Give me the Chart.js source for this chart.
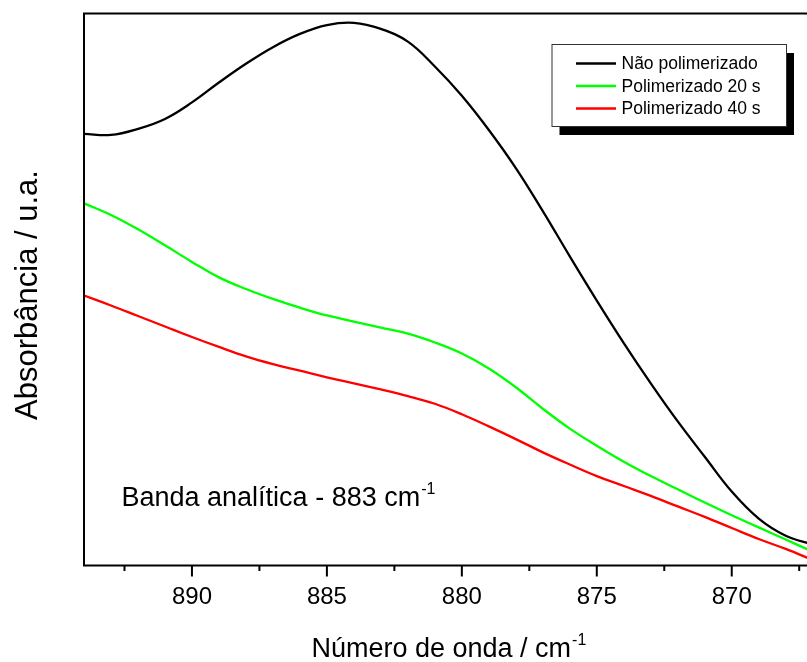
<!DOCTYPE html>
<html>
<head>
<meta charset="utf-8">
<title>Absorbância - banda 883</title>
<script src="https://cdn.jsdelivr.net/npm/chart.js@4"></script>
<style>
  html, body { margin: 0; padding: 0; background: #fff; overflow: hidden; }
  #grafico { display: block; }
</style>
</head>
<body>
<canvas id="grafico" width="815" height="662"></canvas>
<script>
/* espectros na regiao de 883 cm-1 */
var numeroOnda = [894, 893, 892, 891, 890, 889, 888, 887, 886, 885, 884, 883, 882, 881,
                  880, 879, 878, 877, 876, 875, 874, 873, 872, 871, 870, 869, 868, 867];

var naoPolimerizado = [78.2, 78.0, 79.1, 80.9, 83.9, 87.5, 90.9, 93.9, 96.3, 97.9, 98.3, 97.2, 94.9, 90.4,
                       85.1, 78.9, 72.0, 64.2, 56.0, 48.0, 40.3, 33.0, 26.1, 19.7, 13.4, 8.5, 5.4, 3.8];

var polimerizado20 = [65.6, 63.5, 60.9, 58.0, 55.0, 52.2, 50.1, 48.3, 46.7, 45.3, 44.2, 43.1, 42.0, 40.4,
                      38.4, 35.7, 32.3, 28.4, 24.8, 21.7, 18.8, 16.2, 13.8, 11.4, 9.1, 6.9, 4.7, 2.5];

var polimerizado40 = [48.9, 47.1, 45.2, 43.3, 41.4, 39.6, 37.9, 36.5, 35.3, 34.1, 33.0, 31.9, 30.7, 29.3,
                      27.4, 25.2, 22.9, 20.5, 18.3, 16.2, 14.4, 12.6, 10.7, 8.8, 6.8, 4.8, 3.0, 1.0];

var nomes = ['Não polimerizado', 'Polimerizado 20 s', 'Polimerizado 40 s'];
var cores = ['#000000', '#00ff00', '#ff0000'];

var ticksMaiores = [890, 885, 880, 875, 870];
var ticksMenores = [892.5, 887.5, 882.5, 877.5, 872.5, 867.5];

var fonte = '"Liberation Sans", Arial, Helvetica, sans-serif';

function pontos(valores) {
    return numeroOnda.map(function (x, i) { return { x: x, y: valores[i] }; });
}

// texto com expoente (cm-1)
function textoComExpoente(ctx, texto, expoente, x, y, tam, alinhar) {
    ctx.font = tam + 'px ' + fonte;
    var w1 = ctx.measureText(texto).width;
    ctx.font = Math.round(tam * 0.58) + 'px ' + fonte;
    var w2 = ctx.measureText(expoente).width;
    var inicio = alinhar === 'center' ? x - (w1 + w2) / 2 : x;
    ctx.textAlign = 'left';
    ctx.textBaseline = 'alphabetic';
    ctx.font = tam + 'px ' + fonte;
    ctx.fillText(texto, inicio, y);
    ctx.font = Math.round(tam * 0.58) + 'px ' + fonte;
    ctx.fillText(expoente, inicio + w1 + 1, y - tam * 0.45);
}

var moldura = {
    id: 'moldura',
    afterDatasetsDraw: function (chart) {
        var ctx = chart.ctx;
        var area = chart.chartArea;
        var sx = chart.scales.x;

        ctx.save();
        ctx.strokeStyle = '#000';
        ctx.fillStyle = '#000';
        ctx.lineWidth = 2;
        ctx.strokeRect(area.left, area.top, area.right - area.left, area.bottom - area.top);

        // ticks do eixo x
        ticksMaiores.forEach(function (v) {
            var px = sx.getPixelForValue(v);
            ctx.beginPath();
            ctx.moveTo(px, area.bottom);
            ctx.lineTo(px, area.bottom + 11);
            ctx.stroke();
        });
        ticksMenores.forEach(function (v) {
            var px = sx.getPixelForValue(v);
            ctx.beginPath();
            ctx.moveTo(px, area.bottom);
            ctx.lineTo(px, area.bottom + 5.5);
            ctx.stroke();
        });

        ctx.font = '24px ' + fonte;
        ctx.textAlign = 'center';
        ctx.textBaseline = 'alphabetic';
        ticksMaiores.forEach(function (v) {
            ctx.fillText(String(v), sx.getPixelForValue(v), area.bottom + 38);
        });

        // titulos dos eixos
        textoComExpoente(ctx, 'Número de onda / cm', '-1', (area.left + area.right) / 2, 657, 27, 'center');

        ctx.save();
        ctx.translate(36.5, 295);
        ctx.rotate(-Math.PI / 2);
        ctx.font = '31px ' + fonte;
        ctx.textAlign = 'center';
        ctx.textBaseline = 'alphabetic';
        ctx.fillText('Absorbância / u.a.', 0, 0);
        ctx.restore();

        // anotacao
        textoComExpoente(ctx, 'Banda analítica - 883 cm', '-1', 121.5, 506, 27, 'left');

        // legenda com sombra
        var lx = 551.5, ly = 44, lw = 234.5, lh = 82;
        ctx.fillStyle = '#000';
        ctx.fillRect(lx + 8, ly + 9, lw, lh);
        ctx.fillStyle = '#fff';
        ctx.fillRect(lx, ly, lw, lh);
        ctx.lineWidth = 1;
        ctx.strokeStyle = '#333';
        ctx.strokeRect(lx + 0.5, ly + 0.5, lw, lh);

        ctx.font = '17.5px ' + fonte;
        ctx.textAlign = 'left';
        ctx.textBaseline = 'middle';
        chart.data.datasets.forEach(function (ds, i) {
            var yy = 63.5 + i * 22.5;
            ctx.strokeStyle = ds.borderColor;
            ctx.lineWidth = 2.5;
            ctx.beginPath();
            ctx.moveTo(576, yy);
            ctx.lineTo(616, yy);
            ctx.stroke();
            ctx.fillStyle = '#000';
            ctx.fillText(ds.label, 621.5, yy + 1);
        });
        ctx.restore();
    }
};

var ctx = document.getElementById('grafico').getContext('2d');
var chart = new Chart(ctx, {
    type: 'line',
    data: {
        datasets: [
            { label: nomes[0], data: pontos(naoPolimerizado), borderColor: cores[0] },
            { label: nomes[1], data: pontos(polimerizado20), borderColor: cores[1] },
            { label: nomes[2], data: pontos(polimerizado40), borderColor: cores[2] }
        ]
    },
    options: {
        responsive: false,
        animation: false,
        parsing: false,
        layout: { padding: { left: 84, top: 13.5, right: 2.3, bottom: 96.5 } },
        elements: {
            line: { borderWidth: 2.3, tension: 0.4, fill: false },
            point: { radius: 0 }
        },
        plugins: {
            legend: { display: false },
            tooltip: { enabled: false }
        },
        scales: {
            x: { type: 'linear', reverse: true, min: 867, max: 894, display: false },
            y: { type: 'linear', min: 0, max: 100, display: false }
        }
    },
    plugins: [moldura]
});
</script>
</body>
</html>
